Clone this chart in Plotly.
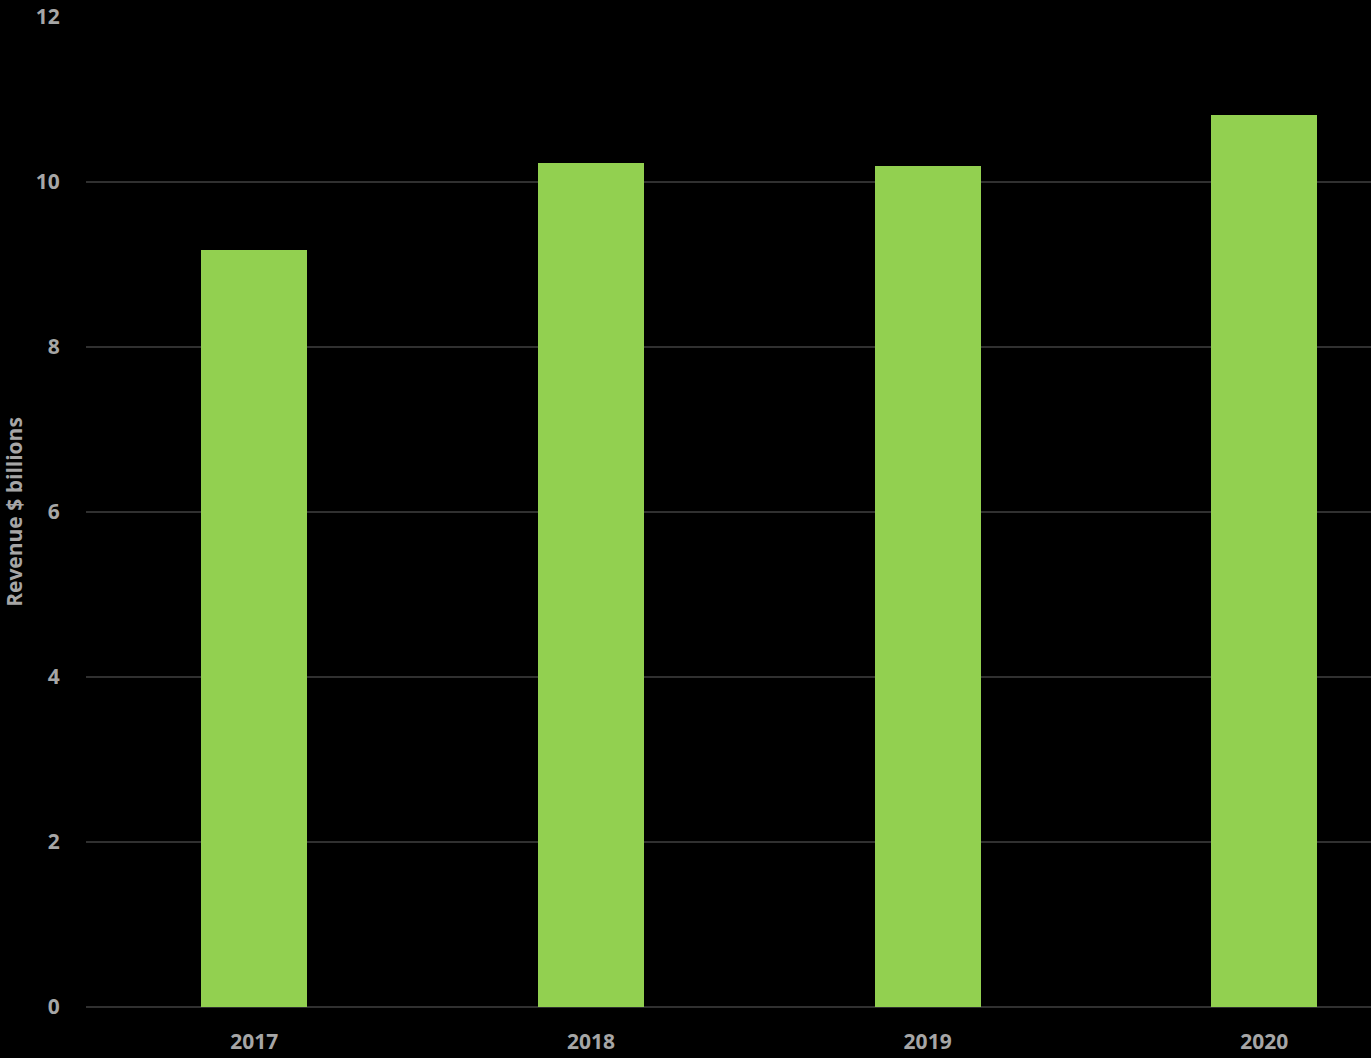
import plotly.graph_objects as go

years = ["2017", "2018", "2019", "2020"]
revenue = [9.18, 10.23, 10.19, 10.81]
y_ticks = [0, 2, 4, 6, 8, 10, 12]

fig = go.Figure()
fig.add_trace(go.Bar(
    x=years, y=revenue,
    marker=dict(color="#92D050", line=dict(width=0)),
    width=0.315,
))

font_family = "Open Sans"
fsize = 21
fig.update_layout(
    width=1371, height=1058,
    paper_bgcolor="black", plot_bgcolor="black",
    margin=dict(l=86, r=0, t=17, b=51),
    showlegend=False,
    font=dict(family=font_family, color="#A6A6A6", size=fsize),
    bargap=0,
)
fig.update_xaxes(
    type="category",
    range=[-0.5, 3.317],
    showgrid=False, zeroline=False, showline=False,
    ticks="outside", ticklen=16, tickcolor="black",
    tickfont=dict(family=font_family, size=fsize, color="#A6A6A6", weight="bold"),
)
fig.update_yaxes(
    range=[0, 12],
    tickvals=y_ticks,
    showgrid=True, gridcolor="#303030", gridwidth=1.5,
    zeroline=True, zerolinecolor="#303030", zerolinewidth=1.5,
    showline=False,
    ticks="outside", ticklen=21, tickcolor="black",
    tickfont=dict(family=font_family, size=fsize, color="#A6A6A6", weight="bold"),
    title=dict(text="Revenue $ billions", standoff=12,
               font=dict(family=font_family, size=fsize, color="#A6A6A6", weight="bold")),
)

fig.write_html(
    "out.html",
    config={"displayModeBar": False},
    post_script="document.body.style.margin='0';document.body.style.background='black';document.body.style.overflow='hidden';",
)
